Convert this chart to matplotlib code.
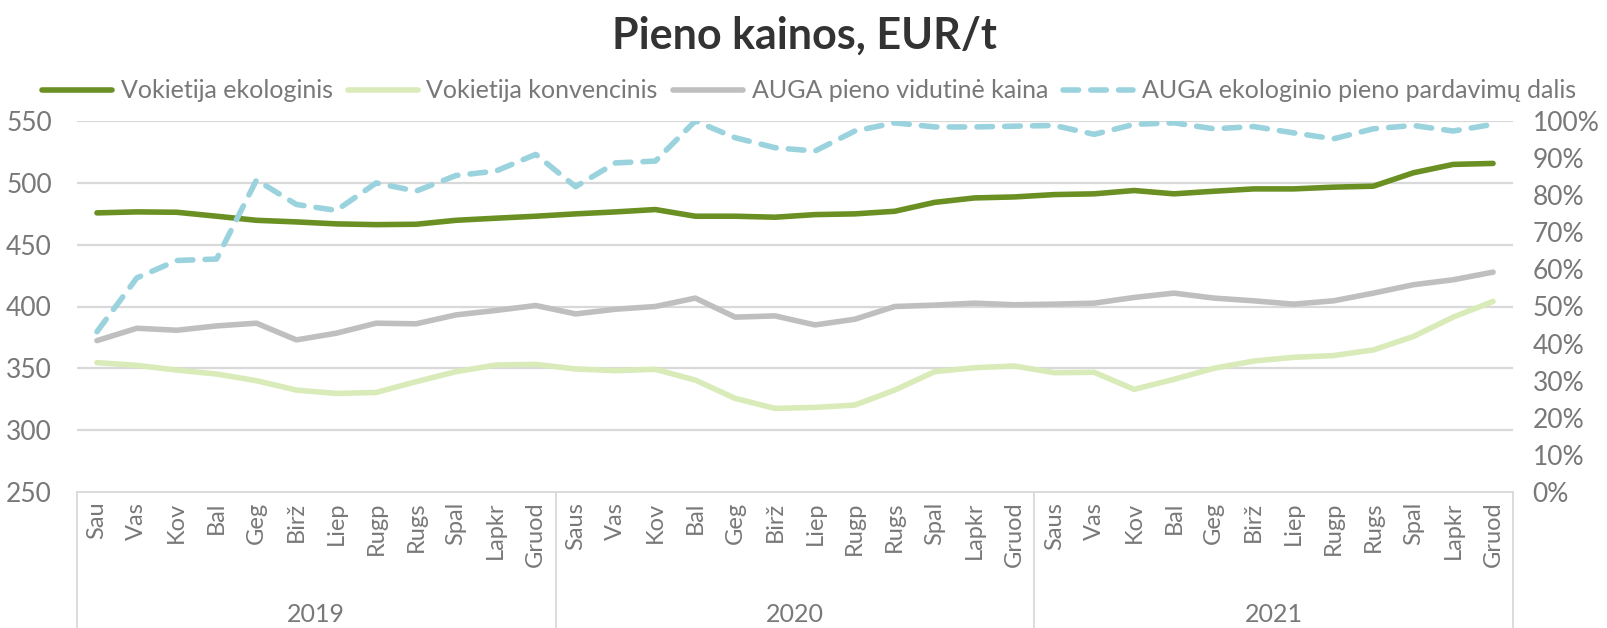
import matplotlib
matplotlib.use("Agg")
import matplotlib.pyplot as plt
import matplotlib.transforms as mtransforms
from matplotlib.ticker import FixedLocator, FuncFormatter

plt.rcParams['font.family'] = ['Lato', 'DejaVu Sans']

months_2019 = ["Sau", "Vas", "Kov", "Bal", "Geg", "Birž", "Liep", "Rugp", "Rugs", "Spal", "Lapkr", "Gruod"]
months_2020 = ["Saus", "Vas", "Kov", "Bal", "Geg", "Birž", "Liep", "Rugp", "Rugs", "Spal", "Lapkr", "Gruod"]
months_2021 = ["Saus", "Vas", "Kov", "Bal", "Geg", "Birž", "Liep", "Rugp", "Rugs", "Spal", "Lapkr", "Gruod"]
years = ["2019", "2020", "2021"]
month_labels = months_2019 + months_2020 + months_2021

de_eco = [475.7, 476.5, 476.2, 473.0, 469.7, 468.4, 466.8, 466.2, 466.5, 469.7, 471.4, 473.0,
          474.9, 476.5, 478.4, 473.0, 473.0, 472.2, 474.3, 474.9, 477.0, 484.2, 487.8, 488.6,
          490.5, 491.1, 493.8, 491.1, 493.2, 495.1, 495.1, 496.5, 497.3, 508.1, 514.9, 515.7]
de_conv = [354.6, 352.4, 348.6, 345.4, 340.0, 332.4, 329.7, 330.5, 339.2, 347.3, 352.7, 353.2,
           349.5, 348.1, 349.2, 340.5, 325.7, 317.6, 318.4, 320.3, 332.4, 347.3, 350.5, 351.9,
           346.5, 346.8, 333.0, 341.1, 350.0, 355.9, 358.9, 360.3, 364.9, 375.7, 391.4, 404.1]
auga_price = [372.4, 382.4, 380.8, 384.3, 386.5, 373.0, 378.4, 386.5, 386.0, 393.2, 396.8, 400.8,
              394.0, 397.8, 400.0, 406.8, 391.4, 392.4, 385.1, 389.7, 400.0, 401.1, 402.7, 401.4,
              401.9, 402.7, 407.3, 410.8, 406.8, 404.6, 401.9, 404.6, 410.8, 417.6, 421.6, 427.8]
auga_eco_share = [43.2, 57.7, 62.4, 62.8, 84.1, 77.5, 75.9, 83.3, 81.1, 85.3, 86.5, 91.0,
                  82.3, 88.7, 89.2, 100.0, 95.5, 92.8, 91.9, 97.3, 99.5, 98.4, 98.4, 98.6,
                  98.8, 96.4, 99.1, 99.5, 97.9, 98.5, 96.8, 95.2, 97.9, 98.8, 97.3, 99.1]

series_names = ["Vokietija ekologinis", "Vokietija konvencinis",
                "AUGA pieno vidutinė kaina", "AUGA ekologinio pieno pardavimų dalis"]

c_eco = "#6a8f22"
c_conv = "#d9ebb9"
c_gray = "#bfbfbf"
c_blue = "#9ad3dd"
c_text = "#787878"
c_grid = "#d9d9d9"

W, H = 1608, 628
fig = plt.figure(figsize=(W / 100, H / 100), dpi=100)
left_px, right_px, top_px, bot_px = 77, 1513, 121, 492
ax = fig.add_axes([left_px / W, 1 - bot_px / H, (right_px - left_px) / W, (bot_px - top_px) / H])
ax2 = ax.twinx()

x = list(range(len(month_labels)))
l1, = ax.plot(x, de_eco, color=c_eco, lw=4, solid_capstyle='round', zorder=4)
l2, = ax.plot(x, de_conv, color=c_conv, lw=4, solid_capstyle='round', zorder=3)
l3, = ax.plot(x, auga_price, color=c_gray, lw=4, solid_capstyle='round', zorder=3)
l4, = ax2.plot(x, [v / 100 for v in auga_eco_share], color=c_blue, lw=4,
               linestyle=(0, (2.8, 2.2)), dash_capstyle='round', zorder=3)

ax.set_xlim(-0.5, len(x) - 0.5)
ax.set_ylim(250, 550)
ax2.set_ylim(0, 1)
ax.set_yticks([250, 300, 350, 400, 450, 500, 550])
ax2.yaxis.set_major_locator(FixedLocator([i / 10 for i in range(11)]))
ax2.yaxis.set_major_formatter(FuncFormatter(lambda v, p: f"{int(round(v * 100))}%"))

for a in (ax, ax2):
    for s in a.spines.values():
        s.set_visible(False)
ax.spines['bottom'].set_visible(True)
ax.spines['bottom'].set_color(c_grid)
ax.spines['bottom'].set_linewidth(1.3)

ax.grid(axis='y', color=c_grid, lw=1.6, zorder=0)
ax.set_axisbelow(True)
for gl, t in zip(ax.yaxis.get_gridlines(), ax.get_yticks()):
    if t == 250:
        gl.set_visible(False)

ax.tick_params(axis='y', length=0, pad=18, labelsize=19, labelcolor=c_text)
ax2.tick_params(axis='y', length=0, pad=14, labelsize=19, labelcolor=c_text)

ax.set_xticks(x)
ax.set_xticklabels(month_labels, rotation=90, fontsize=17, color=c_text)
ax.tick_params(axis='x', length=0, pad=7)

trans = mtransforms.blended_transform_factory(ax.transData, ax.transAxes)
depth = -(H - bot_px) / (bot_px - top_px)
for b in [-0.5, 11.5, 23.5, 35.5]:
    ax.plot([b, b], [0, depth], transform=trans, color=c_grid, lw=1.3, clip_on=False)
for i, yr in enumerate(years):
    ax.text(i * 12 + 5.5, -(615 - bot_px) / (bot_px - top_px), yr, transform=trans,
            ha='center', va='center', fontsize=18, color=c_text)

fig.text(0.5, 1 - 36 / H, "Pieno kainos, EUR/t", ha='center', va='center',
         fontsize=31, fontweight='bold', color="#333333")

fig.legend([l1, l2, l3, l4], series_names, loc='center', ncol=4,
           bbox_to_anchor=(0.503, 1 - 91 / H), frameon=False, fontsize=18,
           labelcolor=c_text, handlelength=2.8, handletextpad=0.35, columnspacing=0.6,
           borderaxespad=0, borderpad=0)

fig.savefig("out.png", dpi=100)
